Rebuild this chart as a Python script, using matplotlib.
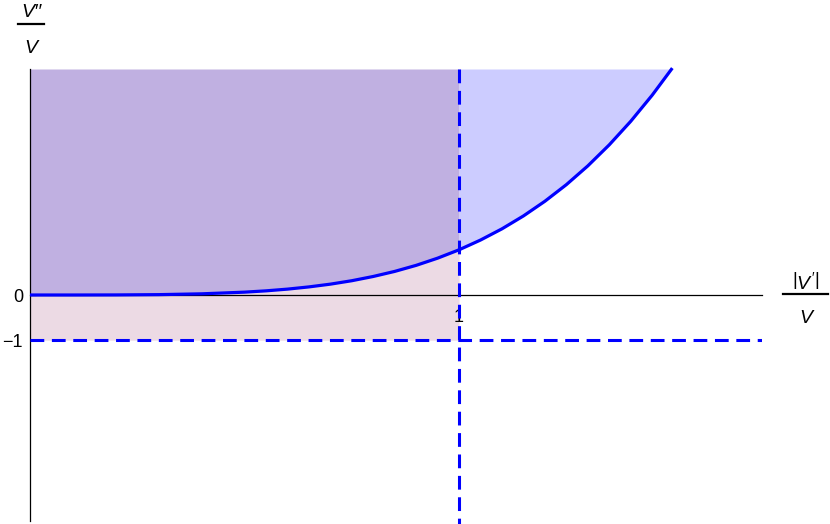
import numpy as np
import matplotlib
matplotlib.use('Agg')
import matplotlib.pyplot as plt
from matplotlib.lines import Line2D

plt.rcParams['font.family'] = ['Liberation Sans', 'DejaVu Sans']
plt.rcParams['mathtext.fontset'] = 'custom'
plt.rcParams['mathtext.it'] = 'Liberation Sans:italic'
plt.rcParams['mathtext.rm'] = 'Liberation Sans'

# curve (ratio |V'|/V vs V''/V)
ratio = [0, 0.1, 0.2, 0.3, 0.4, 0.5, 0.55, 0.6, 0.65, 0.7, 0.75, 0.8, 0.85, 0.9, 0.95,
         1.0, 1.05, 1.1, 1.15, 1.2, 1.25, 1.3, 1.35, 1.4, 1.45, 1.497]
curv = [0, 0.0001, 0.0016, 0.008, 0.026, 0.063, 0.092, 0.13, 0.179, 0.24, 0.316, 0.41, 0.522,
        0.656, 0.815, 1.0, 1.216, 1.464, 1.749, 2.074, 2.441, 2.856, 3.322, 3.842, 4.42, 5.02]

yTop = 5
yBottom = -5
xRight = 1.706
xCut = 1.0
yCut = -1.0

blueLine = '#0000ff'
purpleFill = '#c0b0e1'
pinkFill = '#ecdae4'
blueFill = '#ccccff'

W, H = 830, 524

x = np.array(ratio)
y = np.array(curv)
yClip = np.minimum(y, yTop)

fig = plt.figure(figsize=(8.3, 5.24), dpi=100)
ax = fig.add_axes([30/W, (H-521)/H, (762-30)/W, (521-69)/H])

# regions
ax.fill_between(x, yCut, yClip, where=(x <= xCut), color=pinkFill, lw=0)
ax.fill_between(x, yClip, yTop, where=(x <= xCut), color=purpleFill, lw=0)
ax.fill_between(x, yClip, yTop, where=(x >= xCut), color=blueFill, lw=0)

ax.plot(x, y, color=blueLine, lw=2.3, clip_on=False, zorder=5,
        solid_capstyle='butt', solid_joinstyle='round')

ax.axhline(yCut, color=blueLine, lw=2.2, ls=(0, (4.5, 2.5)), zorder=4)
ax.plot([xCut, xCut], [yTop, yBottom - 0.1], color=blueLine, lw=2.2,
        ls=(0, (4.5, 2.5)), zorder=4, clip_on=False)

ax.set_xlim(0, xRight)
ax.set_ylim(yBottom, yTop)

for s in ['top', 'right']:
    ax.spines[s].set_visible(False)
ax.spines['bottom'].set_position(('data', 0))
ax.spines['left'].set_linewidth(0.9)
ax.spines['bottom'].set_linewidth(0.9)

ax.set_xticks([1])
ax.set_xticklabels(['1'])
ax.set_yticks([-1, 0])
ax.set_yticklabels(['\u22121', '0'])
ax.tick_params(axis='both', direction='in', length=4, width=0.8, labelsize=13)
ax.tick_params(axis='x', pad=10)
ax.tick_params(axis='y', pad=5)
ax.set_facecolor('none')


# axis labels drawn as stacked fractions
def fracLabel(numer, denom, cx, barY, x0, x1, gapTop, gapBottom, numStyle='normal'):
    fig.text(cx/W, 1 - (barY - gapTop)/H, numer, fontsize=14, ha='center', va='baseline',
             style=numStyle)
    fig.text(cx/W, 1 - (barY + gapBottom)/H, denom, fontsize=14, ha='center', va='baseline',
             style='italic')
    fig.add_artist(Line2D([x0/W, x1/W], [1 - barY/H, 1 - barY/H], color='black', lw=1.6,
                          transform=fig.transFigure))


fracLabel('V\u2032\u2032', 'V', 31, 24, 18, 44, 7, 29, numStyle='italic')
fracLabel(r"$\left|V'\right|$", 'V', 806, 294, 783, 828, 5, 29)

plt.savefig('out.png', dpi=100)
plt.close()
